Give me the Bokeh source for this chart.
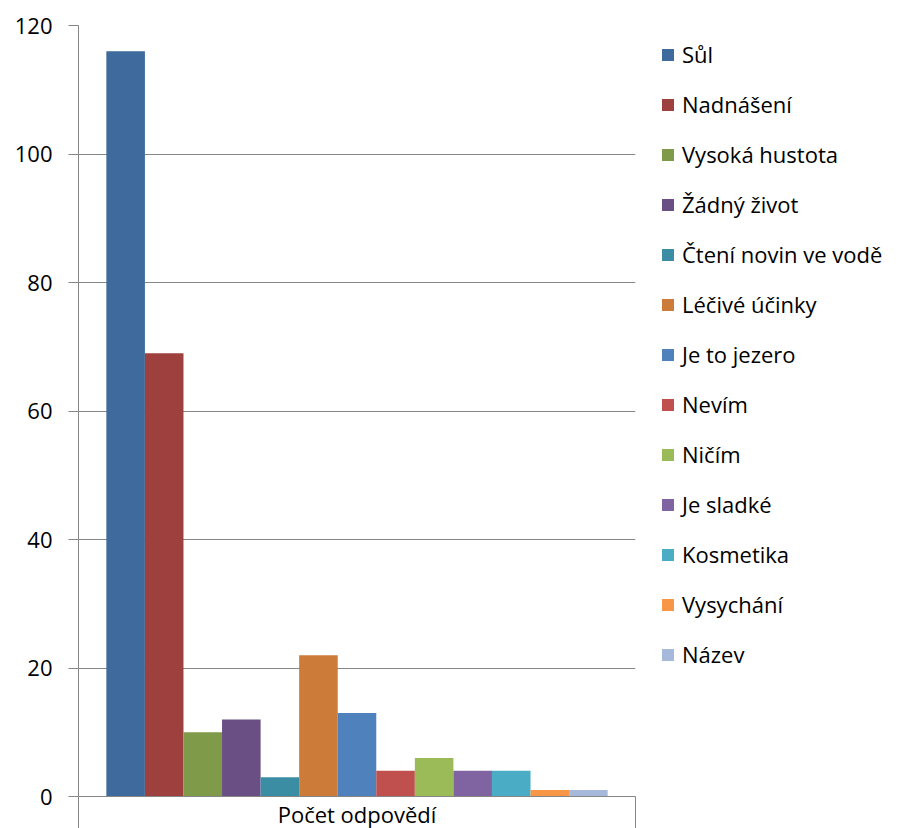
from bokeh.plotting import figure
from bokeh.models import (Range1d, LinearAxis, FixedTicker,
                          ColumnDataSource, Legend, LegendItem)
from bokeh.embed import file_html
from bokeh.resources import INLINE

category = "Počet odpovědí"
names = ["Sůl", "Nadnášení", "Vysoká hustota", "Žádný život",
         "Čtení novin ve vodě", "Léčivé účinky", "Je to jezero", "Nevím",
         "Ničím", "Je sladké", "Kosmetika", "Vysychání", "Název"]
values = [116, 69, 10, 12, 3, 22, 13, 4, 6, 4, 4, 1, 1]
colors = ["#3E6A9D", "#9E413E", "#7F9A48", "#6A4F85", "#3B8DA4", "#CC7B38",
          "#4F81BD", "#C0504D", "#9BBB59", "#8064A2", "#4BACC6", "#F79646",
          "#A7B9DA"]
y_ticks = [0, 20, 40, 60, 80, 100, 120]

FONT = "Open Sans"
GRAY = "#868686"
FS = "22px"

# the single category occupies [0, 1]; its bars fill the central 90 %
p = figure(x_range=Range1d(0, 1), y_range=Range1d(0, 120),
           frame_width=557, frame_height=771,
           min_border_left=78, min_border_top=25, min_border_bottom=0,
           min_border_right=255,
           x_axis_type=None,
           output_backend="svg", toolbar_location=None)
p.outline_line_color = None
p.background_fill_color = "white"
p.border_fill_color = "white"

# y axis
yax = p.yaxis[0]
yax.ticker = FixedTicker(ticks=y_ticks)
yax.minor_tick_line_color = None
yax.major_tick_in = 0
yax.major_tick_out = 10
yax.major_tick_line_color = GRAY
yax.axis_line_color = GRAY
yax.major_label_standoff = 16
yax.major_label_text_font = FONT
yax.major_label_text_font_size = FS
yax.major_label_text_color = "black"
p.ygrid.ticker = FixedTicker(ticks=y_ticks)
p.ygrid.grid_line_color = GRAY
p.ygrid.grid_line_width = 1

# category axis with boundary ticks
xax = LinearAxis(ticker=FixedTicker(ticks=[0, 1]),
                 major_label_overrides={0: "", 1: ""},
                 major_label_standoff=0,
                 major_tick_in=-32, major_tick_out=0,
                 minor_tick_line_color=None,
                 axis_line_color=GRAY, major_tick_line_color=GRAY,
                 axis_label=category, axis_label_standoff=2,
                 axis_label_text_font=FONT, axis_label_text_font_size=FS,
                 axis_label_text_font_style="normal",
                 axis_label_text_color="black")
p.add_layout(xax, "below")

n = len(names)
group = 0.9
bw = group / n
items = []
for i, (name, val, col) in enumerate(zip(names, values, colors)):
    xpos = (1 - group) / 2 + (i + 0.5) * bw
    src = ColumnDataSource(dict(x=[xpos], top=[val]))
    r = p.vbar(x="x", top="top", width=bw,
               source=src, fill_color=col, line_color=None)
    items.append(LegendItem(label=name, renderers=[r]))

legend = Legend(items=items, location=(25, 127),
                glyph_width=15, glyph_height=15, label_standoff=7,
                label_height=30, spacing=20,
                label_text_font=FONT, label_text_font_size=FS,
                label_text_color="black",
                border_line_color=None, background_fill_alpha=0,
                margin=0, padding=0)
p.add_layout(legend, "right")

open("out.html", "w").write(file_html(p, INLINE))
